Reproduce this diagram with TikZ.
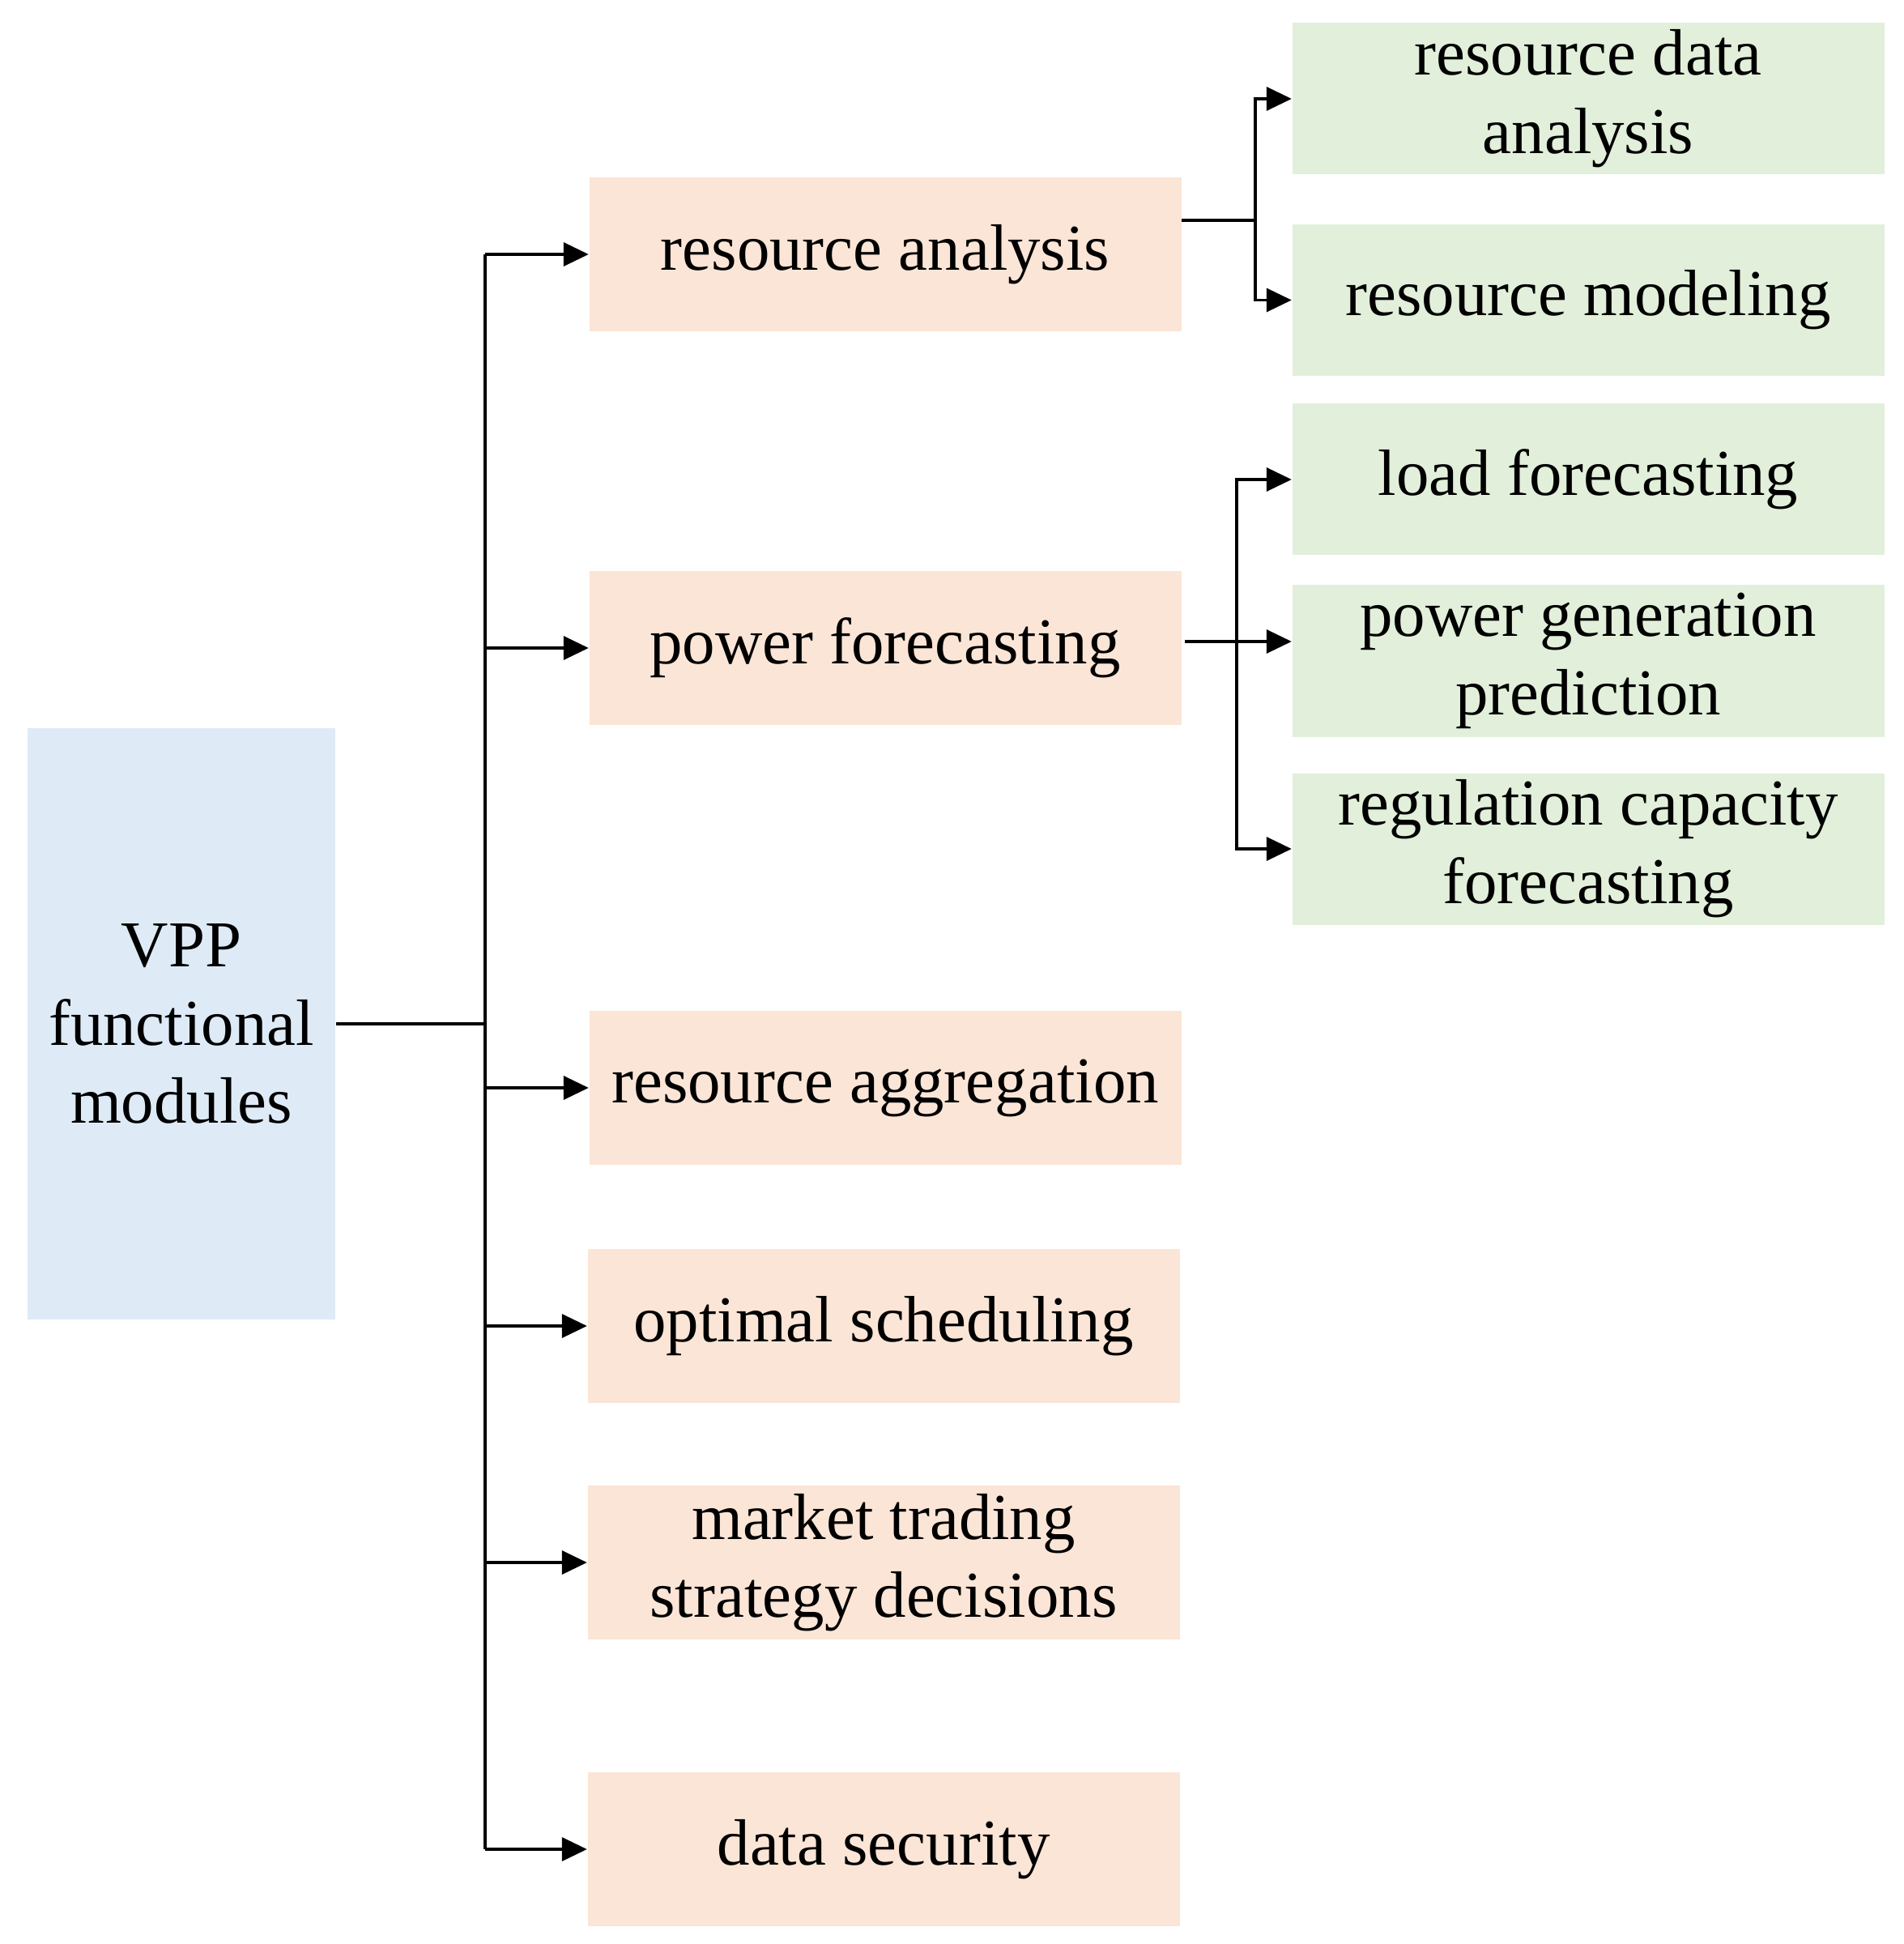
\documentclass[tikz,border=0pt]{standalone}
\usepackage{fontspec}
\setmainfont{Liberation Serif}
\usepackage{tikz}
\usetikzlibrary{arrows.meta}
\definecolor{vppblue}{HTML}{DEEBF7}
\definecolor{modpeach}{HTML}{FBE5D6}
\definecolor{subgreen}{HTML}{E2EFDA}
\tikzset{
    modbox/.style={fill=#1,minimum width=7.31cm,minimum height=1.9cm,inner sep=0pt,align=center,
                   font=\fontsize{23}{27.5}\selectfont},
    link/.style={line width=1pt},
    arr/.style={line width=1pt,-{Triangle[length=3.1mm,width=2.9mm]}}
}

\begin{document}
\begin{tikzpicture}
            \useasboundingbox (0,0) rectangle (23.5,-24);

            % root
            \node (vpp) [modbox=vppblue,minimum width=3.8cm,minimum height=7.3cm] at (2.24,-12.64) {VPP\\functional\\modules};

            % modules
            \node (ra)  [modbox=modpeach] at (10.93,-3.14)  {resource analysis};
            \node (pf)  [modbox=modpeach] at (10.93,-8.00)  {power forecasting};
            \node (agg) [modbox=modpeach] at (10.93,-13.43) {resource aggregation};
            \node (os)  [modbox=modpeach] at (10.91,-16.37) {optimal scheduling};
            \node (mt)  [modbox=modpeach] at (10.91,-19.29) {market trading\\strategy decisions};
            \node (ds)  [modbox=modpeach] at (10.91,-22.83) {data security};

            % sub-modules
            \node (rda) [modbox=subgreen,minimum height=1.87cm] at (19.61,-1.22)  {resource data\\analysis};
            \node (rm)  [modbox=subgreen,minimum height=1.87cm] at (19.61,-3.705) {resource modeling};
            \node (lf)  [modbox=subgreen,minimum height=1.87cm] at (19.61,-5.92)  {load forecasting};
            \node (pg)  [modbox=subgreen,minimum height=1.87cm] at (19.61,-8.16)  {power generation\\prediction};
            \node (rc)  [modbox=subgreen,minimum height=1.87cm] at (19.61,-10.48) {regulation capacity\\forecasting};

            % bus lines
            \coordinate (bus)    at (5.99,0);
            \coordinate (ra-bus) at (15.50,0);
            \coordinate (pf-bus) at (15.27,0);
            \coordinate (ra-out) at ([yshift=4.2mm]ra.east);
            \coordinate (pf-out) at ([xshift=0.4mm,yshift=0.8mm]pf.east);

            \draw[link] (vpp.east) -- (vpp.east -| bus);
            \draw[link] (bus |- ra) -- (bus |- ds);
            \foreach \m in {ra,pf,agg,os,mt,ds}
                \draw[arr] (bus |- \m) -- (\m.west);

            \draw[link] (ra-out) -- (ra-out -| ra-bus);
            \draw[arr] (ra-out -| ra-bus) |- (rda.west);
            \draw[arr] (ra-out -| ra-bus) |- (rm.west);

            \draw[arr] (pf-out) -- (pf-out -| pg.west);
            \draw[arr] (pf-out -| pf-bus) |- (lf.west);
            \draw[arr] (pf-out -| pf-bus) |- (rc.west);
\end{tikzpicture}
\end{document}
